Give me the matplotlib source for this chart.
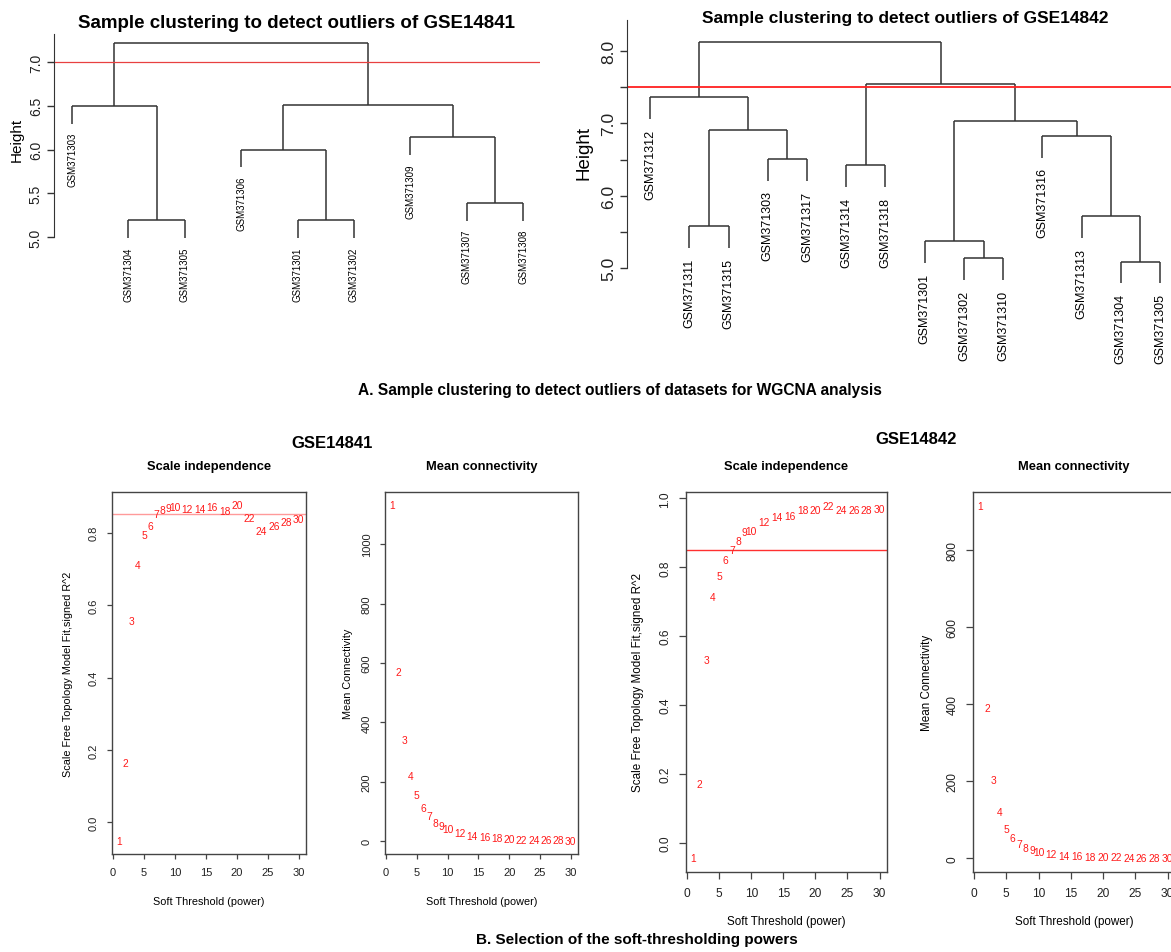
import matplotlib
matplotlib.use("Agg")
import matplotlib.pyplot as plt

plt.rcParams['font.family'] = ['Liberation Sans', 'DejaVu Sans']

# ---------------- data ----------------
labels_41 = ["GSM371303", "GSM371304", "GSM371305", "GSM371306", "GSM371301",
             "GSM371302", "GSM371309", "GSM371307", "GSM371308"]
# hclust-style merges: negative = leaf (1-based), positive = earlier merge (1-based)
merges_41 = [(-2, -3, 5.19), (-5, -6, 5.19), (-8, -9, 5.39), (-4, 2, 6.00),
             (-7, 3, 6.14), (-1, 1, 6.50), (4, 5, 6.51), (6, 7, 7.22)]
cut_41 = 7.0

labels_42 = ["GSM371312", "GSM371311", "GSM371315", "GSM371303", "GSM371317",
             "GSM371314", "GSM371318", "GSM371301", "GSM371302", "GSM371310",
             "GSM371316", "GSM371313", "GSM371304", "GSM371305"]
merges_42 = [(-13, -14, 5.09), (-9, -10, 5.14), (-8, 2, 5.37), (-2, -3, 5.58),
             (-12, 1, 5.72), (-6, -7, 6.42), (-4, -5, 6.51), (-11, 5, 6.83),
             (4, 7, 6.91), (3, 8, 7.03), (-1, 9, 7.36), (6, 10, 7.54), (11, 12, 8.12)]
cut_42 = 7.5

powers = [1, 2, 3, 4, 5, 6, 7, 8, 9, 10, 12, 14, 16, 18, 20, 22, 24, 26, 28, 30]
sft_41 = [-0.050, 0.163, 0.557, 0.710, 0.794, 0.817, 0.850, 0.861, 0.869, 0.871,
          0.866, 0.866, 0.871, 0.859, 0.875, 0.839, 0.805, 0.817, 0.828, 0.837]
k_41 = [1130, 571, 340, 220, 155, 113, 84, 63, 52, 43,
        27, 19, 14, 10, 8, 6, 4.5, 3.5, 3, 2.5]
sft_42 = [-0.044, 0.171, 0.532, 0.713, 0.776, 0.821, 0.850, 0.876, 0.902, 0.905,
          0.931, 0.946, 0.949, 0.966, 0.968, 0.978, 0.968, 0.968, 0.968, 0.970]
k_42 = [913, 390, 203, 119, 76, 52, 37, 27, 21, 16,
        10, 7, 5, 3.5, 2.6, 2, 1.5, 1.2, 1, 0.8]
r2_cut = 0.85

W, H = 1171, 953
fig = plt.figure(figsize=(W / 100, H / 100), dpi=100)


def ax_px(l, t, r, b):
    return fig.add_axes([l / W, 1 - b / H, (r - l) / W, (b - t) / H])


def draw_dendro(ax, labels, merges, lw, color, lab_fs, lab_off):
    def order(node):
        if node < 0:
            return [-node - 1]
        a, b, _ = merges[node - 1]
        return order(a) + order(b)
    leaf_order = order(len(merges))
    pos = {leaf: i + 1 for i, leaf in enumerate(leaf_order)}
    heights = [m[2] for m in merges]
    hang = 0.1 * (max(heights) - min(heights))
    xm = {}
    for k, (a, b, h) in enumerate(merges, start=1):
        xs = []
        for c in (a, b):
            if c < 0:
                x = pos[-c - 1]
                bot = h - hang
                ax.annotate(labels[-c - 1], xy=(x, bot), xytext=(0, -lab_off),
                            textcoords='offset points', rotation=90,
                            ha='center', va='top', fontsize=lab_fs,
                            annotation_clip=False)
            else:
                x = xm[c]
                bot = merges[c - 1][2]
            ax.plot([x, x], [bot, h], color=color, lw=lw, solid_capstyle='butt')
            xs.append(x)
        ax.plot(xs, [h, h], color=color, lw=lw, solid_capstyle='butt')
        xm[k] = sum(xs) / 2.0


def style_dendro_axis(ax, ticks, ticklabels, spine_top, fs):
    for s in ('top', 'right', 'bottom'):
        ax.spines[s].set_visible(False)
    ax.spines['left'].set_bounds(ticks[0], spine_top)
    ax.spines['left'].set_color('#333333')
    ax.set_xticks([])
    ax.set_yticks(ticks)
    ax.set_yticklabels(ticklabels)
    ax.tick_params(axis='y', length=5, width=1, colors='#333333', labelsize=fs,
                   labelcolor='#222222', pad=3)
    for t in ax.get_yticklabels():
        t.set_rotation(90)
        t.set_va('center')


# ---------------- A: dendrograms ----------------
ax1 = ax_px(54, 32.4, 540, 246.75)
draw_dendro(ax1, labels_41, merges_41, 1.1, '#333333', 7, 6)
ax1.axhline(cut_41, color='#e84040', lw=0.9)
ax1.set_xlim(0.68, 9.30)
ax1.set_ylim(4.9, 7.35)
style_dendro_axis(ax1, [5.0, 5.5, 6.0, 6.5, 7.0], ['5.0', '5.5', '6.0', '6.5', '7.0'], 7.32, 10)
ax1.set_ylabel('Height', fontsize=11, labelpad=4)

ax2 = ax_px(627, 19.5, 1171, 287.1)
draw_dendro(ax2, labels_42, merges_42, 1.1, '#333333', 9, 7)
ax2.axhline(cut_42, color='#ff2020', lw=1.3)
ax2.set_xlim(0.41, 14.28)
ax2.set_ylim(4.75, 8.45)
style_dendro_axis(ax2, [5.0, 5.5, 6.0, 6.5, 7.0, 7.5, 8.0],
                  ['5.0', '', '6.0', '', '7.0', '', '8.0'], 8.43, 12.5)
ax2.set_ylabel('Height', fontsize=13.5, labelpad=6)

fig.text(296 / W, 1 - 23 / H, 'Sample clustering to detect outliers of GSE14841',
         ha='center', va='center', fontsize=13.5, fontweight='bold')
fig.text(905 / W, 1 - 18 / H, 'Sample clustering to detect outliers of GSE14842',
         ha='center', va='center', fontsize=12.5, fontweight='bold')
fig.text(620 / W, 1 - 390 / H,
         'A. Sample clustering to detect outliers of datasets for WGCNA analysis',
         ha='center', va='center', fontsize=11.2, fontweight='bold')

# ---------------- B: soft threshold panels ----------------


def soft_panel(box, y, title, ylabel, yticks, ytl, fs, tick_len, tick_pad,
               xlab_y, ylab_x, cut=None, cut_color='red'):
    l, t, r, b = box
    ax = ax_px(*box)
    for p, v in zip(powers, y):
        ax.text(p, v, str(p), color='#ff1a1a', fontsize=7.4, ha='center', va='center')
    if cut is not None:
        ax.axhline(cut, color=cut_color, lw=1.0)
    lo, hi = min(y), max(y)
    pad = 0.04 * (hi - lo)
    ax.set_ylim(lo - pad, hi + pad)
    px = 0.04 * (max(powers) - min(powers))
    ax.set_xlim(min(powers) - px, max(powers) + px)
    ax.set_xticks([0, 5, 10, 15, 20, 25, 30])
    ax.set_yticks(yticks)
    ax.set_yticklabels(ytl)
    for s in ax.spines.values():
        s.set_color('#444444')
        s.set_linewidth(1.0)
    ax.tick_params(length=tick_len, width=0.9, colors='#444444', labelsize=fs,
                   labelcolor='#222222', pad=tick_pad)
    for tl in ax.get_yticklabels():
        tl.set_rotation(90)
        tl.set_va('center')
    fig.text((l + r) / 2 / W, 1 - 467 / H, title, ha='center', va='center',
             fontsize=9.3, fontweight='bold')
    ax.set_xlabel('Soft Threshold (power)', fontsize=fs - 0.2)
    ax.xaxis.label.set_va('center')
    ax.xaxis.set_label_coords(0.5, -(xlab_y - b) / (b - t))
    ax.set_ylabel(ylabel, fontsize=fs - 0.2)
    ax.yaxis.label.set_va('center')
    ax.yaxis.set_label_coords((ylab_x - l) / (r - l), 0.5)
    return ax


soft_panel((112, 493, 306, 855), sft_41, 'Scale independence',
           'Scale Free Topology Model Fit,signed R^2',
           [0.0, 0.2, 0.4, 0.6, 0.8], ['0.0', '0.2', '0.4', '0.6', '0.8'],
           8.0, 3.6, 6.0, 902, 68, cut=r2_cut, cut_color='#ff9a9a')
soft_panel((385, 493, 578, 855), k_41, 'Mean connectivity', 'Mean Connectivity',
           [0, 200, 400, 600, 800, 1000], ['0', '200', '400', '600', '800', '1000'],
           8.0, 3.6, 6.0, 902, 348)
soft_panel((686, 493, 887, 873), sft_42, 'Scale independence',
           'Scale Free Topology Model Fit,signed R^2',
           [0.0, 0.2, 0.4, 0.6, 0.8, 1.0], ['0.0', '0.2', '0.4', '0.6', '0.8', '1.0'],
           8.6, 5.0, 5.5, 922, 638, cut=r2_cut, cut_color='#ff3030')
soft_panel((973, 493, 1175, 873), k_42, 'Mean connectivity', 'Mean Connectivity',
           [0, 200, 400, 600, 800], ['0', '200', '400', '600', '800'],
           8.6, 5.0, 5.5, 922, 927)

fig.text(332 / W, 1 - 444 / H, 'GSE14841', ha='center', va='center',
         fontsize=12, fontweight='bold')
fig.text(916 / W, 1 - 440 / H, 'GSE14842', ha='center', va='center',
         fontsize=12, fontweight='bold')
fig.text(637 / W, 1 - 940 / H, 'B. Selection of the soft-thresholding powers',
         ha='center', va='center', fontsize=11, fontweight='bold')

fig.savefig('out.png', dpi=100, facecolor='white')
